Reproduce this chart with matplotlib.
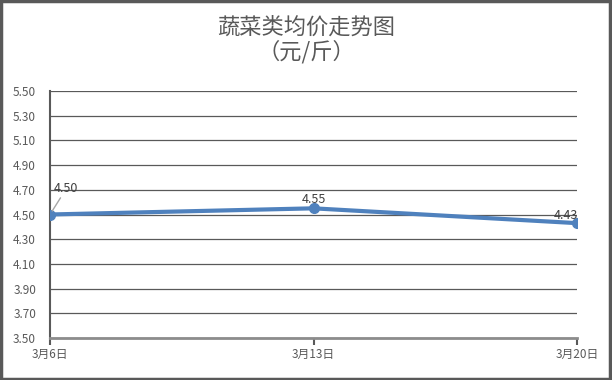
import matplotlib.pyplot as plt
import matplotlib.patches as patches

plt.rcParams['font.family'] = ['Noto Sans CJK SC', 'DejaVu Sans']

# Data
dates = ['3月6日', '3月13日', '3月20日']
prices = [4.50, 4.55, 4.43]
y_ticks = [3.50, 3.70, 3.90, 4.10, 4.30, 4.50, 4.70, 4.90, 5.10, 5.30, 5.50]

fig = plt.figure(figsize=(6.12, 3.80), dpi=100)
ax = fig.add_axes([50 / 612, 1 - 338 / 380, (577 - 50) / 612, (338 - 91) / 380])

x = list(range(len(dates)))
ax.plot(x, prices, color='#4F81BD', linewidth=3, marker='o', markersize=7, zorder=3)

ax.set_xlim(0, len(dates) - 1)
ax.set_ylim(3.5, 5.5)
ax.set_yticks(y_ticks)
ax.set_yticklabels([f'{v:.2f}' for v in y_ticks], fontsize=8.5, color='#595959')
ax.set_xticks(x)
ax.set_xticklabels(dates, fontsize=8.5, color='#595959')
ax.tick_params(axis='y', length=0, pad=10)
ax.tick_params(axis='x', length=5, width=1.5, color='#595959', pad=2)
ax.grid(axis='y', color='#595959', linewidth=0.9)
ax.set_axisbelow(True)
for s in ['top', 'right']:
    ax.spines[s].set_visible(False)
ax.spines['left'].set_color('#595959')
ax.spines['left'].set_linewidth(1.5)
ax.spines['bottom'].set_color('#8c8c8c')
ax.spines['bottom'].set_linewidth(2)

# data labels
ax.annotate(f'{prices[0]:.2f}', xy=(x[0], prices[0]), xytext=(3, 14), textcoords='offset points',
            fontsize=9, color='#404040', ha='left', va='bottom',
            arrowprops=dict(arrowstyle='-', color='#a6a6a6', lw=1, shrinkA=0, shrinkB=3))
ax.annotate(f'{prices[1]:.2f}', xy=(x[1], prices[1]), xytext=(0, 2), textcoords='offset points',
            fontsize=9, color='#404040', ha='center', va='bottom')
ax.annotate(f'{prices[2]:.2f}', xy=(x[2], prices[2]), xytext=(-8, 1), textcoords='offset points',
            fontsize=9, color='#404040', ha='center', va='bottom')

# titles
fig.text(0.5, 1 - 27 / 380, '蔬菜类均价走势图', ha='center', va='center', fontsize=16, color='#595959')
fig.text(0.5, 1 - 52 / 380, '（元/斤）', ha='center', va='center', fontsize=16, color='#595959')

# outer border
fig.patches.append(patches.Rectangle((0.002, 0.003), 0.995, 0.994, transform=fig.transFigure,
                                     fill=False, edgecolor='#595959', linewidth=2.5))

fig.savefig('out.png', dpi=100)
